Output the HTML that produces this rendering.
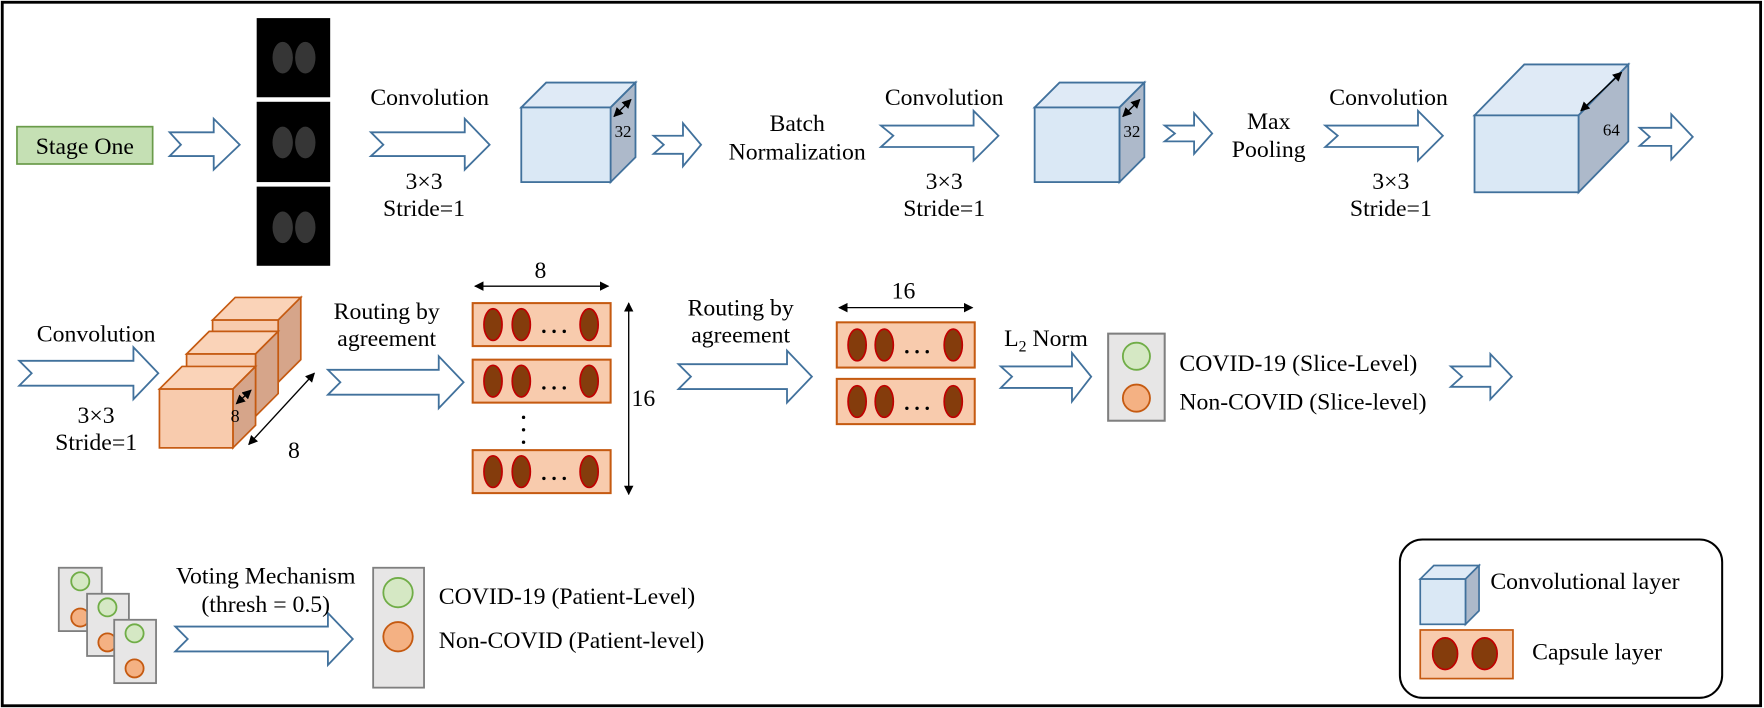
<!DOCTYPE html>
<html><head><meta charset="utf-8"><style>
html,body{margin:0;padding:0;background:#fff;}
svg{display:block;}
svg text{font-family:"Liberation Serif","Times New Roman","DejaVu Serif",serif;fill:#000;}
</style></head><body>
<svg width="1764" height="708" viewBox="0 0 1560 626" preserveAspectRatio="none" xmlns="http://www.w3.org/2000/svg" font-family="'Liberation Serif', 'Times New Roman', 'DejaVu Serif', serif">
<defs>
<marker id="ah" viewBox="0 0 10 10" refX="9" refY="5" markerWidth="7" markerHeight="7" orient="auto-start-reverse"><path d="M0,0 L10,5 L0,10 z" fill="#000"/></marker>
</defs>
<rect x="2" y="2" width="1555" height="622" fill="#fff" stroke="#000" stroke-width="2.5"/>
<g fill="#fff" stroke="#41719c" stroke-width="1.6" stroke-linejoin="miter">
<path d="M150,117 L189,117 L189,105 L212,128 L189,150 L189,138 L150,138 L160,128Z"/>
<path d="M328,117 L411,117 L411,105 L433,128 L411,150 L411,138 L328,138 L339,128Z"/>
<path d="M578,120 L604,120 L604,109 L620,128 L604,147 L604,136 L578,136 L587,128Z"/>
<path d="M779,111 L861,111 L861,98 L883,120 L861,142 L861,130 L779,130 L790,120Z"/>
<path d="M1030,111 L1056,111 L1056,100 L1072,118 L1056,136 L1056,125 L1030,125 L1039,118Z"/>
<path d="M1172,111 L1254,111 L1254,98 L1276,120 L1254,142 L1254,130 L1172,130 L1183,120Z"/>
<path d="M1450,113 L1478,113 L1478,101 L1497,121 L1478,141 L1478,129 L1450,129 L1459,121Z"/>
<path d="M17,319 L118,319 L118,307 L140,330 L118,353 L118,341 L17,341 L28,330Z"/>
<path d="M290,327 L388,327 L388,315 L410,338 L388,361 L388,349 L290,349 L301,338Z"/>
<path d="M600,322 L696,322 L696,310 L718,333 L696,356 L696,344 L600,344 L611,333Z"/>
<path d="M885,324 L948,324 L948,312 L965,333 L948,355 L948,343 L885,343 L895,333Z"/>
<path d="M1283,324 L1318,324 L1318,313 L1337,333 L1318,353 L1318,342 L1283,342 L1293,333Z"/>
<path d="M155,554 L290,554 L290,542 L312,565 L290,588 L290,576 L155,576 L166,565Z"/>
</g>
<rect x="15" y="112" width="120" height="33" fill="#c5e0b4" stroke="#6a9b4a" stroke-width="1.5"/>
<text x="75" y="136" font-size="21" text-anchor="middle">Stage One</text>
<g>
<rect x="227" y="16" width="65" height="70" fill="#000"/>
<rect x="227" y="90" width="65" height="71" fill="#000"/>
<rect x="227" y="165" width="65" height="70" fill="#000"/>
<g fill="#444" opacity="0.8">
<ellipse cx="250" cy="51" rx="9" ry="14"/><ellipse cx="270" cy="51" rx="9" ry="14"/>
<ellipse cx="250" cy="126" rx="9" ry="14"/><ellipse cx="270" cy="126" rx="9" ry="14"/>
<ellipse cx="250" cy="201" rx="9" ry="14"/><ellipse cx="270" cy="201" rx="9" ry="14"/>
</g>
</g>
<g font-size="21" text-anchor="middle">
<text x="380" y="93">Convolution</text>
<text x="375" y="167">3×3</text>
<text x="375" y="191">Stride=1</text>
<text x="705" y="116">Batch</text>
<text x="705" y="141">Normalization</text>
<text x="835" y="93">Convolution</text>
<text x="835" y="167">3×3</text>
<text x="835" y="191">Stride=1</text>
<text x="1122" y="114">Max</text>
<text x="1122" y="139">Pooling</text>
<text x="1228" y="93">Convolution</text>
<text x="1230" y="167">3×3</text>
<text x="1230" y="191">Stride=1</text>
</g>
<g stroke="#41719c" stroke-width="1.6">
<path d="M461,95 L483,73 L562,73 L540,95Z" fill="#dfeaf6"/>
<path d="M540,95 L562,73 L562,139 L540,161Z" fill="#adb9ca"/>
<rect x="461" y="95" width="79" height="66" fill="#dae8f5"/>
<path d="M915,95 L937,73 L1012,73 L990,95Z" fill="#dfeaf6"/>
<path d="M990,95 L1012,73 L1012,139 L990,161Z" fill="#adb9ca"/>
<rect x="915" y="95" width="75" height="66" fill="#dae8f5"/>
<path d="M1304,102 L1348,57 L1440,57 L1396,102Z" fill="#dfeaf6"/>
<path d="M1396,102 L1440,57 L1440,125 L1396,170Z" fill="#adb9ca"/>
<rect x="1304" y="102" width="92" height="68" fill="#dae8f5"/>
</g>
<g stroke="#000" stroke-width="1.2" marker-start="url(#ah)" marker-end="url(#ah)">
<line x1="543" y1="103" x2="558" y2="88"/>
<line x1="993" y1="103" x2="1008" y2="88"/>
<line x1="1398" y1="98" x2="1434" y2="64"/>
</g>
<g font-size="15" text-anchor="middle">
<text x="551" y="121">32</text>
<text x="1001" y="121">32</text>
<text x="1425" y="120">64</text>
</g>
<g font-size="21" text-anchor="middle">
<text x="85" y="302">Convolution</text>
<text x="85" y="374">3×3</text>
<text x="85" y="398">Stride=1</text>
<text x="342" y="282">Routing by</text>
<text x="342" y="306">agreement</text>
<text x="655" y="279">Routing by</text>
<text x="655" y="303">agreement</text>
<text x="478" y="246">8</text>
<text x="799" y="264">16</text>
<text x="569" y="359">16</text>
<text x="260" y="405">8</text>
</g>
<text x="888" y="306" font-size="21">L<tspan font-size="14" dy="5">2</tspan><tspan dy="-5"> Norm</tspan></text>
<g stroke="#c55a11" stroke-width="1.5">
<path d="M188,283 L208,263 L266,263 L246,283Z" fill="#fad3b8"/>
<path d="M246,283 L266,263 L266,318 L246,338Z" fill="#d6a58a"/>
<rect x="188" y="283" width="58" height="55" fill="#f8cbad"/>
<path d="M165,313 L185,293 L246,293 L226,313Z" fill="#fad3b8"/>
<path d="M226,313 L246,293 L246,348 L226,368Z" fill="#d6a58a"/>
<rect x="165" y="313" width="61" height="55" fill="#f8cbad"/>
<path d="M141,344 L161,324 L226,324 L206,344Z" fill="#fad3b8"/>
<path d="M206,344 L226,324 L226,376 L206,396Z" fill="#d6a58a"/>
<rect x="141" y="344" width="65" height="52" fill="#f8cbad"/>
</g>
<g stroke="#000" stroke-width="1.2" marker-start="url(#ah)" marker-end="url(#ah)">
<line x1="209" y1="357" x2="222" y2="345"/>
<line x1="220" y1="393" x2="278" y2="330"/>
<line x1="420" y1="253" x2="538" y2="253"/>
<line x1="556" y1="268" x2="556" y2="437"/>
<line x1="742" y1="272" x2="860" y2="272"/>
</g>
<text x="208" y="373" font-size="16" text-anchor="middle">8</text>
<g stroke="#c55a11" stroke-width="1.8" fill="#f8cbad">
<rect x="418" y="268" width="122" height="38"/>
<rect x="418" y="318" width="122" height="38"/>
<rect x="418" y="398" width="122" height="38"/>
<rect x="740" y="285" width="122" height="40"/>
<rect x="740" y="335" width="122" height="40"/>
</g>
<g fill="#843c0c" stroke="#c00000" stroke-width="1.5">
<ellipse cx="436" cy="287" rx="8" ry="14"/><ellipse cx="461" cy="287" rx="8" ry="14"/><ellipse cx="521" cy="287" rx="8" ry="14"/>
<ellipse cx="436" cy="337" rx="8" ry="14"/><ellipse cx="461" cy="337" rx="8" ry="14"/><ellipse cx="521" cy="337" rx="8" ry="14"/>
<ellipse cx="436" cy="417" rx="8" ry="14"/><ellipse cx="461" cy="417" rx="8" ry="14"/><ellipse cx="521" cy="417" rx="8" ry="14"/>
<ellipse cx="758" cy="305" rx="8" ry="14"/><ellipse cx="782" cy="305" rx="8" ry="14"/><ellipse cx="843" cy="305" rx="8" ry="14"/>
<ellipse cx="758" cy="355" rx="8" ry="14"/><ellipse cx="782" cy="355" rx="8" ry="14"/><ellipse cx="843" cy="355" rx="8" ry="14"/>
</g>
<g fill="#000">
<circle cx="481" cy="293" r="1.5"/><circle cx="490" cy="293" r="1.5"/><circle cx="499" cy="293" r="1.5"/>
<circle cx="481" cy="343" r="1.5"/><circle cx="490" cy="343" r="1.5"/><circle cx="499" cy="343" r="1.5"/>
<circle cx="481" cy="423" r="1.5"/><circle cx="490" cy="423" r="1.5"/><circle cx="499" cy="423" r="1.5"/>
<circle cx="802" cy="311" r="1.5"/><circle cx="811" cy="311" r="1.5"/><circle cx="820" cy="311" r="1.5"/>
<circle cx="802" cy="361" r="1.5"/><circle cx="811" cy="361" r="1.5"/><circle cx="820" cy="361" r="1.5"/>
<circle cx="463" cy="369" r="1.5"/><circle cx="463" cy="380" r="1.5"/><circle cx="463" cy="391" r="1.5"/>
</g>
<rect x="980" y="295" width="50" height="77" fill="#e7e6e6" stroke="#7f7f7f" stroke-width="1.8"/>
<ellipse cx="1005" cy="315" rx="12" ry="12" fill="#d5e8c4" stroke="#70ad47" stroke-width="1.6"/>
<ellipse cx="1005" cy="352" rx="12" ry="12" fill="#f4b183" stroke="#c55a11" stroke-width="1.6"/>
<text x="1043" y="328" font-size="21">COVID-19 (Slice-Level)</text>
<text x="1043" y="362" font-size="21">Non-COVID (Slice-level)</text>
<g stroke="#7f7f7f" stroke-width="1.6">
<rect x="52" y="502" width="38" height="56" fill="#e7e6e6"/>
<circle cx="71" cy="514" r="8" fill="#d5e8c4" stroke="#70ad47"/>
<circle cx="71" cy="546" r="8" fill="#f4b183" stroke="#c55a11"/>
<rect x="77" y="525" width="37" height="55" fill="#e7e6e6"/>
<circle cx="95" cy="537" r="8" fill="#d5e8c4" stroke="#70ad47"/>
<circle cx="95" cy="568" r="8" fill="#f4b183" stroke="#c55a11"/>
<rect x="101" y="548" width="37" height="56" fill="#e7e6e6"/>
<circle cx="119" cy="560" r="8" fill="#d5e8c4" stroke="#70ad47"/>
<circle cx="119" cy="591" r="8" fill="#f4b183" stroke="#c55a11"/>
<rect x="330" y="502" width="45" height="106" fill="#e7e6e6"/>
<circle cx="352" cy="524" r="13" fill="#d5e8c4" stroke="#70ad47"/>
<circle cx="352" cy="563" r="13" fill="#f4b183" stroke="#c55a11"/>
</g>
<text x="235" y="516" font-size="21" text-anchor="middle">Voting Mechanism</text>
<text x="235" y="541" font-size="21" text-anchor="middle">(thresh = 0.5)</text>
<text x="388" y="534" font-size="21">COVID-19 (Patient-Level)</text>
<text x="388" y="573" font-size="21">Non-COVID (Patient-level)</text>
<rect x="1238" y="477" width="285" height="140" rx="20" fill="#fff" stroke="#000" stroke-width="1.8"/>
<g stroke="#41719c" stroke-width="1.5">
<path d="M1256,512 L1268,500 L1308,500 L1296,512Z" fill="#dfeaf6"/>
<path d="M1296,512 L1308,500 L1308,540 L1296,552Z" fill="#adb9ca"/>
<rect x="1256" y="512" width="40" height="40" fill="#dae8f5"/>
</g>
<text x="1318" y="521" font-size="21">Convolutional layer</text>
<rect x="1256" y="557" width="82" height="43" fill="#f8cbad" stroke="#c55a11" stroke-width="1.5"/>
<ellipse cx="1278" cy="578" rx="11" ry="14" fill="#843c0c" stroke="#c00000" stroke-width="1.5"/>
<ellipse cx="1313" cy="578" rx="11" ry="14" fill="#843c0c" stroke="#c00000" stroke-width="1.5"/>
<text x="1355" y="583" font-size="21">Capsule layer</text>
</svg>
</body></html>
